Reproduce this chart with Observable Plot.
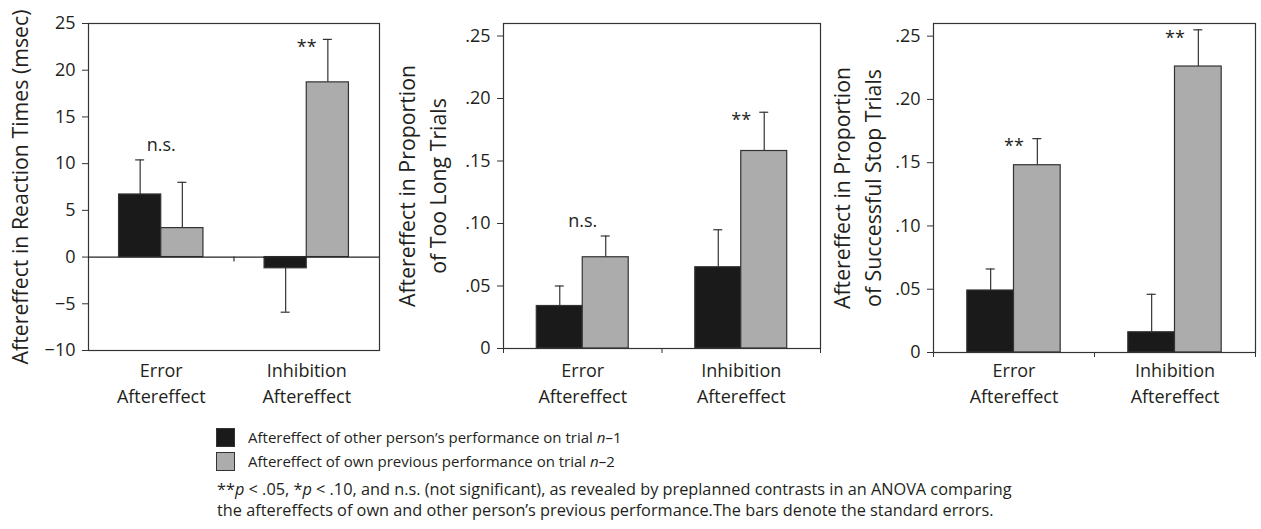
<!DOCTYPE html>
<html><head><meta charset="utf-8">
<script src="https://cdn.jsdelivr.net/npm/d3@7"></script>
<script src="https://cdn.jsdelivr.net/npm/@observablehq/plot@0.6"></script>
<style>
body{margin:0;background:#fff;width:1261px;height:529px;position:relative;overflow:hidden;font-family:"Open Sans",sans-serif;color:#231f20}
.panel{position:absolute;top:0}
.leg{position:absolute;left:216px;font-size:15px;line-height:20px;white-space:nowrap}
.leg .sw{position:absolute;left:0;top:1px;width:17px;height:17px;border:1px solid #333;box-sizing:content-box}
.leg span.t{position:absolute;left:32px;top:0}
.cap{position:absolute;left:217px;top:479px;font-size:16.3px;line-height:21px;white-space:nowrap}
</style></head><body>
<div id="p1" class="panel" style="left:0"></div>
<div id="p2" class="panel" style="left:390px"></div>
<div id="p3" class="panel" style="left:820px"></div>
<div id="legend"></div>
<div class="cap">**<i>p</i> &lt; .05, *<i>p</i> &lt; .10, and n.s. (not significant), as revealed by preplanned contrasts in an ANOVA comparing<br>the aftereffects of own and other person’s previous performance.The bars denote the standard errors.</div>
<script>
// ---- data ----
const categories = ["Error\nAftereffect", "Inhibition\nAftereffect"];
const seriesNames = ["other", "own"];
const seriesColors = ["#1a1a1a", "#acacac"];
const legendLabels = ["Aftereffect of other person’s performance on trial <i>n</i>–1", "Aftereffect of own previous performance on trial <i>n</i>–2"];

// Panel 1: reaction times (msec)
const rtOther = [6.7, -1.2];
const rtOtherSE = [3.7, 4.7];
const rtOwn = [3.1, 18.7];
const rtOwnSE = [4.9, 4.6];
const rtSig = ["n.s.", "**"];
const rtTicks = [-10, -5, 0, 5, 10, 15, 20, 25];

// Panel 2: proportion of too long trials
const tlOther = [0.034, 0.065];
const tlOtherSE = [0.016, 0.030];
const tlOwn = [0.073, 0.158];
const tlOwnSE = [0.017, 0.031];
const tlSig = ["n.s.", "**"];

// Panel 3: proportion of successful stop trials
const ssOther = [0.049, 0.016];
const ssOtherSE = [0.017, 0.030];
const ssOwn = [0.148, 0.226];
const ssOwnSE = [0.021, 0.029];
const ssSig = ["**", "**"];

const propTicks = [0, 0.05, 0.10, 0.15, 0.20, 0.25];

const INK = "#231f20";
const W = 0.29;

function panel({other, otherSE, own, ownSE, sig, yDomain, yTicks, yFormat, yLabel, width, height, mL, mR, mT, mB, labelDx, catDy, zeroAxis}) {
  const rows = categories.flatMap((c, i) => [
    {i, s: 0, name: seriesNames[0], v: other[i], se: otherSE[i]},
    {i, s: 1, name: seriesNames[1], v: own[i], se: ownSE[i]}
  ]);
  const x1 = d => d.i + 0.5 + (d.s === 0 ? -W : 0);
  const x2 = d => x1(d) + W;
  const xc = d => x1(d) + W / 2;
  const end = d => d.v + Math.sign(d.v) * d.se;
  const sigRows = categories.map((c, i) => {
    const r = rows.filter(d => d.i === i);
    return {i, label: sig[i], y: d3.max(r, end)};
  });
  const marks = [
    Plot.ruleX(rows, {x: xc, y1: "v", y2: end, stroke: "#333", strokeWidth: 1.2}),
    Plot.ruleY(rows, {y: end, x1: xc, x2: xc, insetLeft: -4.5, insetRight: -4.5, stroke: "#333", strokeWidth: 1.2}),
    Plot.rectY(rows, {x1, x2, y1: 0, y2: "v", fill: "name", stroke: "#333", strokeWidth: 1.2}),
    Plot.frame({stroke: "#333", strokeWidth: 1.2}),
    Plot.axisY(yTicks, {tickSize: 6, tickPadding: 7, tickFormat: yFormat, label: null, stroke: "#333", fill: INK}),
    Plot.text(categories, {x: (d, i) => i + 0.5, frameAnchor: "bottom", lineAnchor: "top", dy: catDy, lineHeight: 1.45, fill: INK}),
    Plot.text([yLabel], {frameAnchor: "left", rotate: -90, textAnchor: "middle", lineAnchor: "top", dx: labelDx, fontSize: 21.3, lineHeight: 1.45, fill: INK}),
    Plot.text(sigRows.filter(d => d.label !== "**"), {x: d => d.i + 0.5, y: "y", text: "label", lineAnchor: "bottom", dy: -9, fill: INK}),
    Plot.text(sigRows.filter(d => d.label === "**"), {x: d => d.i + 0.5, y: "y", text: "label", lineAnchor: "middle", dy: 8, fill: INK})
  ];
  if (zeroAxis) {
    marks.push(Plot.ruleY([0], {stroke: "#222", strokeWidth: 1.2}));
    marks.push(Plot.ruleX([1], {y1: 0, y2: 0, insetBottom: -5, stroke: "#333", strokeWidth: 1.2}));
  } else {
    marks.push(Plot.axisX([0, 1, 2], {tickSize: 5, tickFormat: () => "", label: null, stroke: "#333"}));
  }
  return Plot.plot({
    width, height, marginLeft: mL, marginRight: mR, marginTop: mT, marginBottom: mB,
    style: {fontFamily: "'Open Sans', sans-serif", fontSize: "18px", color: INK, background: "transparent", overflow: "visible"},
    x: {domain: [0, 2], axis: null},
    y: {domain: yDomain, axis: null},
    color: {domain: seriesNames, range: seriesColors},
    marks
  });
}

const propFormat = d => d === 0 ? "0" : d.toFixed(2).replace(/^0/, "");

document.getElementById("p1").append(panel({
  other: rtOther, otherSE: rtOtherSE, own: rtOwn, ownSE: rtOwnSE, sig: rtSig,
  yDomain: [-10, 25], yTicks: rtTicks, yFormat: d => d < 0 ? "−" + Math.abs(d) : String(d),
  yLabel: "Aftereffect in Reaction Times (msec)",
  width: 400, height: 410, mL: 88, mR: 21, mT: 23, mB: 60, labelDx: -82, catDy: 8, zeroAxis: true
}));
document.getElementById("p2").append(panel({
  other: tlOther, otherSE: tlOtherSE, own: tlOwn, ownSE: tlOwnSE, sig: tlSig,
  yDomain: [0, 0.26], yTicks: propTicks, yFormat: propFormat,
  yLabel: "Aftereffect in Proportion\nof Too Long Trials",
  width: 440, height: 410, mL: 113, mR: 10, mT: 23, mB: 62, labelDx: -110, catDy: 10, zeroAxis: false
}));
document.getElementById("p3").append(panel({
  other: ssOther, otherSE: ssOtherSE, own: ssOwn, ownSE: ssOwnSE, sig: ssSig,
  yDomain: [0, 0.26], yTicks: propTicks, yFormat: propFormat,
  yLabel: "Aftereffect in Proportion\nof Successful Stop Trials",
  width: 441, height: 410, mL: 113, mR: 6, mT: 23, mB: 58, labelDx: -105, catDy: 6, zeroAxis: false
}));

const legend = document.getElementById("legend");
legendLabels.forEach((lab, k) => {
  const row = document.createElement("div");
  row.className = "leg";
  row.style.top = (427 + k * 24) + "px";
  row.innerHTML = `<div class="sw" style="background:${seriesColors[k]}"></div><span class="t">${lab}</span>`;
  legend.append(row);
});
</script>
</body></html>
